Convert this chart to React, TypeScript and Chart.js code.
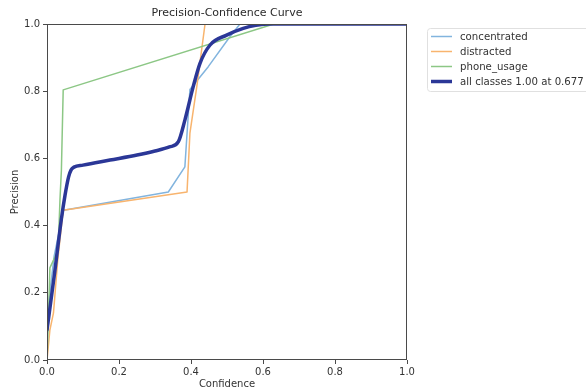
import { useEffect, useRef } from "react";
import { Chart, registerables } from "chart.js";

Chart.register(...registerables);

const chartTitle = "Precision-Confidence Curve";
const xTitle = "Confidence";
const yTitle = "Precision";
const tickValues = [0, 0.2, 0.4, 0.6, 0.8, 1.0];

const seriesLabels = ["concentrated", "distracted", "phone_usage", "all classes 1.00 at 0.677"];
const seriesColors = ["#82b4de", "#f8b46e", "#8cc785", "#2b3797"];
const seriesWidths = [1.5, 1.5, 1.5, 3.5];

const concentratedX = [0, 0.01, 0.02, 0.046, 0.337, 0.383, 0.397, 0.448, 0.508, 0.536, 1.0];
const concentratedY = [0.12, 0.22, 0.31, 0.446, 0.5, 0.575, 0.805, 0.873, 0.962, 1.0, 1.0];

const distractedX = [0, 0.008, 0.018, 0.03, 0.045, 0.389, 0.397, 0.416, 0.439, 1.0];
const distractedY = [0.0, 0.089, 0.14, 0.3, 0.446, 0.5, 0.675, 0.813, 1.0, 1.0];

const phoneX = [0, 0.004, 0.008, 0.031, 0.036, 0.04, 0.045, 0.63, 1.0];
const phoneY = [0, 0.12, 0.274, 0.327, 0.476, 0.565, 0.804, 1.0, 1.0];

const allX = [0, 0.02, 0.04, 0.05, 0.06, 0.067, 0.075, 0.1, 0.175, 0.25, 0.3, 0.34, 0.365, 0.383, 0.406, 0.425, 0.453, 0.499, 0.545, 0.58, 0.62, 1.0];
const allY = [0.09, 0.25, 0.42, 0.49, 0.545, 0.566, 0.574, 0.58, 0.595, 0.61, 0.622, 0.634, 0.65, 0.714, 0.813, 0.883, 0.9375, 0.967, 0.987, 0.996, 1.0, 1.0];

const FONT = "'DejaVu Sans', sans-serif";

const toPts = (xs: number[], ys: number[]) => xs.map((x, i) => ({ x, y: ys[i] }));

const decorPlugin = {
  id: "decor",
  afterDatasetsDraw(chart: any) {
    const { ctx, chartArea: a } = chart;
    ctx.save();
    ctx.strokeStyle = "#4a4a4a";
    ctx.lineWidth = 1;
    ctx.strokeRect(Math.round(a.left) + 0.5, Math.round(a.top) + 0.5, Math.round(a.right - a.left) - 1, Math.round(a.bottom - a.top) - 1);
    ctx.restore();
  },
  afterDraw(chart: any) {
    const { ctx, chartArea: a } = chart;
    ctx.save();
    // title
    ctx.fillStyle = "#2a2a2a";
    ctx.font = `11px ${FONT}`;
    ctx.textAlign = "center";
    ctx.textBaseline = "middle";
    ctx.fillText(chartTitle, (a.left + a.right) / 2, 13);
    // legend
    const bx = 427.5, by = 28.5, bw = 170, bh = 63;
    const r = 3;
    ctx.beginPath();
    ctx.moveTo(bx + r, by);
    ctx.lineTo(bx + bw - r, by);
    ctx.quadraticCurveTo(bx + bw, by, bx + bw, by + r);
    ctx.lineTo(bx + bw, by + bh - r);
    ctx.quadraticCurveTo(bx + bw, by + bh, bx + bw - r, by + bh);
    ctx.lineTo(bx + r, by + bh);
    ctx.quadraticCurveTo(bx, by + bh, bx, by + bh - r);
    ctx.lineTo(bx, by + r);
    ctx.quadraticCurveTo(bx, by, bx + r, by);
    ctx.closePath();
    ctx.fillStyle = "rgba(255,255,255,0.8)";
    ctx.fill();
    ctx.strokeStyle = "#e0e0e0";
    ctx.lineWidth = 1;
    ctx.stroke();
    ctx.font = `10.2px ${FONT}`;
    ctx.textAlign = "left";
    ctx.textBaseline = "middle";
    seriesLabels.forEach((lab, i) => {
      const y = 36.5 + i * 15;
      ctx.strokeStyle = seriesColors[i];
      ctx.lineWidth = seriesWidths[i];
      ctx.beginPath();
      ctx.moveTo(431, y);
      ctx.lineTo(452, y);
      ctx.stroke();
      ctx.fillStyle = "#333333";
      ctx.fillText(lab, 460, y + 0.5);
    });
    ctx.restore();
  },
};

export default function App() {
  const ref = useRef<HTMLCanvasElement>(null);
  useEffect(() => {
    document.body.style.margin = "0";
    const series = [
      toPts(concentratedX, concentratedY),
      toPts(distractedX, distractedY),
      toPts(phoneX, phoneY),
      toPts(allX, allY),
    ];
    const orders = [3, 2, 1, 0];
    const chart = new Chart(ref.current as HTMLCanvasElement, {
      type: "line",
      data: {
        datasets: series.map((d, i) => ({
          label: seriesLabels[i],
          data: d,
          borderColor: seriesColors[i],
          backgroundColor: seriesColors[i],
          borderWidth: seriesWidths[i],
          pointRadius: 0,
          fill: false,
          order: orders[i],
          tension: i === 3 ? 0.25 : 0,
          cubicInterpolationMode: i === 3 ? "monotone" : "default",
          borderJoinStyle: "round",
          borderCapStyle: "round",
        })),
      } as any,
      options: {
        animation: false,
        responsive: false,
        devicePixelRatio: 1,
        layout: { padding: { top: 24, right: 179, bottom: 0, left: 0 } },
        plugins: {
          legend: { display: false },
          title: { display: false },
          tooltip: { enabled: false },
        },
        scales: {
          x: {
            type: "linear",
            min: 0,
            max: 1,
            afterBuildTicks: (s: any) => {
              s.ticks = tickValues.map((v) => ({ value: v }));
            },
            ticks: {
              callback: (v: any) => Number(v).toFixed(1),
              font: { family: FONT, size: 10 },
              color: "#333333",
              padding: 2,
              maxRotation: 0,
            },
            grid: { drawOnChartArea: false, drawTicks: true, tickLength: 4, color: "#4a4a4a" },
            border: { display: false },
            title: {
              display: true,
              text: xTitle,
              font: { family: FONT, size: 10 },
              color: "#333333",
              padding: { top: 0, bottom: 1 },
            },
            afterFit: (s: any) => {
              s.height = 31;
            },
          },
          y: {
            type: "linear",
            min: 0,
            max: 1,
            afterBuildTicks: (s: any) => {
              s.ticks = tickValues.map((v) => ({ value: v }));
            },
            ticks: {
              callback: (v: any) => Number(v).toFixed(1),
              font: { family: FONT, size: 10 },
              color: "#333333",
              padding: 3,
            },
            grid: { drawOnChartArea: false, drawTicks: true, tickLength: 4, color: "#4a4a4a" },
            border: { display: false },
            title: {
              display: true,
              text: yTitle,
              font: { family: FONT, size: 10 },
              color: "#333333",
              padding: { top: 9, bottom: 0 },
            },
            afterFit: (s: any) => {
              s.width = 47;
            },
          },
        },
      } as any,
      plugins: [decorPlugin],
    });
    return () => chart.destroy();
  }, []);
  return (
    <div style={{ position: "absolute", left: 0, top: 0, width: 586, height: 391, background: "#fff" }}>
      <canvas ref={ref} width={586} height={391} />
    </div>
  );
}
